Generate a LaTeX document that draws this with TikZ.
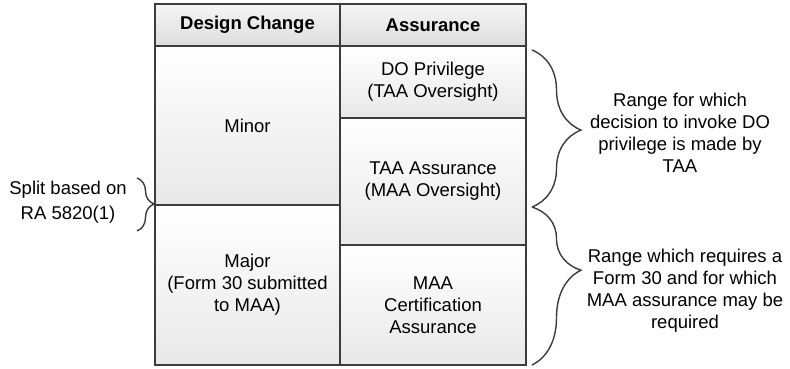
\documentclass[tikz,border=0pt]{standalone}
\usepackage{fontspec}
\setmainfont{Liberation Sans}
\usetikzlibrary{decorations.pathreplacing}
\definecolor{edge}{HTML}{3C3C3C}
\tikzset{
  cell/.style={draw=edge, line width=1.4pt, top color=white, bottom color=black!9,
    inner sep=0pt, align=center, font=\fontsize{18.5}{22}\selectfont},
  hdrcell/.style={cell, top color=black!4, bottom color=black!13,
    font=\fontsize{18.5}{22}\selectfont\bfseries},
  note/.style={align=center, inner sep=0pt, font=\fontsize{18.5}{22}\selectfont},
  bracket/.style={draw=edge, line width=1.4pt, decorate,
    decoration={brace, amplitude=#1}},
}
\begin{document}
\begin{tikzpicture}[x=1pt,y=-1pt]
\useasboundingbox (0,0) rectangle (790,369);
% header
\node[hdrcell, minimum width=185pt, minimum height=42pt] (hdc) at (247.5,25) {Design Change};
\node[hdrcell, minimum width=186pt, minimum height=42pt] (has) at (433,25) {Assurance};
% left column
\node[cell, minimum width=185pt, minimum height=159pt] (minor) at (247.5,125.5) {Minor};
\node[cell, minimum width=185pt, minimum height=160pt] (major) at (247.5,285) {Major\\(Form 30 submitted\\to MAA)};
% right column
\node[cell, minimum width=186pt, minimum height=72pt] (dop) at (433,82) {DO Privilege\\(TAA Oversight)};
\node[cell, minimum width=186pt, minimum height=127pt] (taa) at (433,181.5) {TAA Assurance\\(MAA Oversight)};
\node[cell, minimum width=186pt, minimum height=120pt] (maa) at (433,305) {MAA\\Certification\\Assurance};
% braces
\coordinate (b1s) at (532,50);
\coordinate (b1e) at (532,207);
\coordinate (b2s) at (532,207);
\coordinate (b2e) at (532,365);
\coordinate (bls) at (137,178);
\coordinate (ble) at (137,231);
\draw[bracket=49pt, decoration={aspect=0.51}] (b1s) -- (b1e);
\draw[bracket=49pt, decoration={aspect=0.40}] (b2s) -- (b2e);
\draw[bracket=17pt, decoration={aspect=0.49}] (bls) -- (ble);
% notes
\node[note] (n1) at (680,133) {Range for which\\decision to invoke DO\\privilege is made by\\TAA};
\node[note] (n2) at (685,291) {Range which requires a\\Form 30 and for which\\MAA assurance may be\\required};
\node[note, font=\fontsize{18.5}{25}\selectfont] (nl) at (68,202) {Split based on\\RA 5820(1)};
\end{tikzpicture}
\end{document}
